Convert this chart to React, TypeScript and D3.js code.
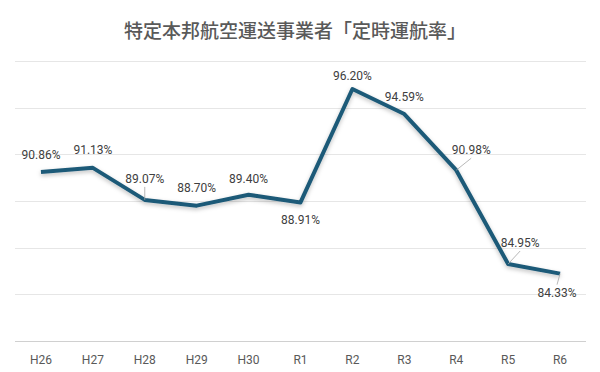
import React, { useRef, useEffect } from "react";
import * as d3 from "d3";

const years = ["H26", "H27", "H28", "H29", "H30", "R1", "R2", "R3", "R4", "R5", "R6"];
const rates = [90.86, 91.13, 89.07, 88.7, 89.4, 88.91, 96.2, 94.59, 90.98, 84.95, 84.33];
const yTicks = [80, 83, 86, 89, 92, 95, 98];

// label offsets from the point (dx, dy) and whether a leader line is drawn
const labelPos: [number, number, boolean][] = [
  [0, -13, false],
  [0, -14, false],
  [0, -17, true],
  [0, -14, false],
  [0, -12, false],
  [0, 22, false],
  [0, -9, false],
  [0, -13, false],
  [15, -16, true],
  [12, -17, true],
  [-3, 23, true],
];

const App: React.FC = () => {
  const ref = useRef<SVGSVGElement | null>(null);

  useEffect(() => {
    const svg = d3.select(ref.current);
    svg.selectAll("*").remove();

    const W = 600;
    const H = 372;
    const margin = { top: 61, right: 14, bottom: 31, left: 15 };
    const width = W - margin.left - margin.right;
    const height = H - margin.top - margin.bottom;

    svg.attr("width", W).attr("height", H);

    svg
      .append("rect")
      .attr("x", 0.5)
      .attr("y", 0.5)
      .attr("width", W - 1)
      .attr("height", H - 1)
      .attr("fill", "#fff")
      .attr("stroke", "#d9d9d9");

    const defs = svg.append("defs");
    const f = defs
      .append("filter")
      .attr("id", "shadow")
      .attr("x", "-10%")
      .attr("y", "-10%")
      .attr("width", "120%")
      .attr("height", "130%");
    f.append("feDropShadow")
      .attr("dx", 0)
      .attr("dy", 2)
      .attr("stdDeviation", 2)
      .attr("flood-color", "#000")
      .attr("flood-opacity", 0.25);

    svg
      .append("text")
      .attr("x", 295)
      .attr("y", 38)
      .attr("text-anchor", "middle")
      .style("font-family", "'Noto Sans CJK JP', sans-serif")
      .style("font-size", "19px")
      .style("font-weight", 500)
      .attr("fill", "#595959")
      .text("特定本邦航空運送事業者「定時運航率」");

    const g = svg.append("g").attr("transform", `translate(${margin.left},${margin.top})`);

    const x = d3.scalePoint<string>().domain(years).range([0, width]).padding(0.5);
    const y = d3.scaleLinear().domain([80, 98]).range([height, 0]);

    // gridlines
    g.selectAll(".grid")
      .data(yTicks)
      .join("line")
      .attr("x1", 0)
      .attr("x2", width)
      .attr("y1", (d) => Math.round(y(d)) + 0.5)
      .attr("y2", (d) => Math.round(y(d)) + 0.5)
      .attr("stroke", (d) => (d === 80 ? "#d0d0d0" : "#e6e6e6"))
      .attr("stroke-width", 1);

    // x axis labels
    g.selectAll(".xl")
      .data(years)
      .join("text")
      .attr("x", (d) => x(d) as number)
      .attr("y", height + 23)
      .attr("text-anchor", "middle")
      .style("font-family", "Roboto, sans-serif")
      .style("font-size", "12px")
      .attr("fill", "#595959")
      .text((d) => d);

    const pts = years.map((d, i) => ({ x: x(d) as number, y: y(rates[i]), v: rates[i] }));

    const line = d3
      .line<{ x: number; y: number }>()
      .x((d) => d.x)
      .y((d) => d.y);

    g.append("path")
      .datum(pts)
      .attr("fill", "none")
      .attr("stroke", "#1f5a78")
      .attr("stroke-width", 4)
      .attr("stroke-linejoin", "round")
      .attr("filter", "url(#shadow)")
      .attr("d", line);

    // leader lines
    pts.forEach((p, i) => {
      const [dx, dy, lead] = labelPos[i];
      if (!lead) return;
      const ty = dy < 0 ? p.y + dy + 4 : p.y + dy - 12;
      g.append("line")
        .attr("x1", p.x)
        .attr("y1", p.y)
        .attr("x2", p.x + dx)
        .attr("y2", ty)
        .attr("stroke", "#a6a6a6")
        .attr("stroke-width", 0.8);
    });

    g.selectAll(".dl")
      .data(pts)
      .join("text")
      .attr("x", (d, i) => d.x + labelPos[i][0])
      .attr("y", (d, i) => d.y + labelPos[i][1])
      .attr("text-anchor", "middle")
      .style("font-family", "Roboto, sans-serif")
      .style("font-size", "12px")
      .attr("fill", "#404040")
      .text((d) => d.v.toFixed(2) + "%");
  }, []);

  return <svg ref={ref} style={{ display: "block", margin: "-8px" }} />;
};

export default App;
